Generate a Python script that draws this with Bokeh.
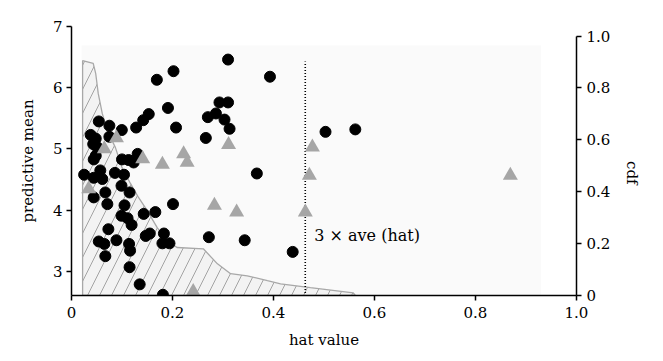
import math
from bokeh.plotting import figure
from bokeh.models import Range1d, LinearAxis, FixedTicker, Label, BoxAnnotation
from bokeh.embed import file_html
from bokeh.resources import INLINE

# ---- data ----
# black circles: hat value vs predictive mean
circ_hat = [0.310, 0.393, 0.202, 0.169, 0.293, 0.310, 0.153, 0.142, 0.191, 0.270,
            0.286, 0.303, 0.313, 0.207, 0.266, 0.367, 0.503, 0.562, 0.438, 0.201,
            0.272, 0.343, 0.181, 0.143, 0.166, 0.147, 0.155, 0.183, 0.180, 0.194,
            0.135, 0.128, 0.0996, 0.054, 0.075, 0.038, 0.048, 0.075, 0.043, 0.051,
            0.048, 0.044, 0.100, 0.123, 0.131, 0.113, 0.025, 0.044, 0.057, 0.061,
            0.086, 0.104, 0.099, 0.115, 0.067, 0.044, 0.071, 0.105, 0.099, 0.111,
            0.119, 0.073, 0.054, 0.065, 0.089, 0.114, 0.116, 0.067, 0.115]
circ_mean = [6.46, 6.18, 6.27, 6.13, 5.76, 5.76, 5.57, 5.47, 5.67, 5.52,
             5.58, 5.48, 5.33, 5.35, 5.18, 4.60, 5.28, 5.32, 3.32, 4.10,
             3.56, 3.51, 2.62, 3.94, 3.97, 3.58, 3.62, 3.62, 3.46, 3.46,
             2.79, 5.35, 5.31, 5.45, 5.38, 5.23, 5.17, 5.20, 5.08, 5.03,
             4.89, 4.83, 4.83, 4.78, 4.92, 4.82, 4.58, 4.53, 4.65, 4.51,
             4.61, 4.58, 4.40, 4.29, 4.29, 4.21, 4.10, 4.08, 3.91, 3.87,
             3.76, 3.69, 3.49, 3.45, 3.51, 3.45, 3.34, 3.25, 3.07]

# grey triangles
tri_hat = [0.311, 0.222, 0.229, 0.180, 0.141, 0.477, 0.471, 0.463, 0.869, 0.283,
           0.327, 0.241, 0.065, 0.089, 0.034]
tri_mean = [5.07, 4.92, 4.78, 4.75, 4.84, 5.03, 4.57, 3.97, 4.57, 4.08,
            3.97, 2.67, 5.00, 5.18, 4.35]

# hatched cdf region (hat value, cdf)
cdf_hat = [0.022, 0.022, 0.043, 0.048, 0.053, 0.061, 0.071, 0.087, 0.100, 0.117,
           0.133, 0.150, 0.170, 0.190, 0.209, 0.261, 0.289, 0.315, 0.348, 0.388,
           0.414, 0.473, 0.558, 0.562]
cdf_val = [0.0, 0.905, 0.895, 0.855, 0.778, 0.701, 0.636, 0.570, 0.493, 0.431,
           0.377, 0.327, 0.261, 0.211, 0.185, 0.180, 0.122, 0.084, 0.076, 0.057,
           0.045, 0.030, 0.010, 0.0]

hat_ave = 0.1543
threshold = 3 * hat_ave

x_ticks = [0, 0.2, 0.4, 0.6, 0.8, 1.0]
x_labels = ["0", "0.2", "0.4", "0.6", "0.8", "1.0"]
y_ticks = [3, 4, 5, 6, 7]
cdf_ticks = [0, 0.2, 0.4, 0.6, 0.8, 1.0]
cdf_labels = ["0", "0.2", "0.4", "0.6", "0.8", "1.0"]

FONT = "DejaVu Serif"

p = figure(width=655, height=353, x_range=Range1d(0, 1), y_range=Range1d(2.608, 7.0),
           output_backend="svg", toolbar_location=None,
           min_border_left=71, min_border_right=79, min_border_top=26, min_border_bottom=58)
p.outline_line_color = None
p.grid.visible = False
p.extra_y_ranges = {"cdf": Range1d(0, 1.037)}

p.add_layout(BoxAnnotation(left=0.02, right=0.93, bottom=2.62, top=6.69,
                           fill_color="#fafafa", fill_alpha=1, line_color=None,
                           level="underlay"))

p.patch(cdf_hat, cdf_val, y_range_name="cdf", fill_color="#f3f3f3", line_color="#a8a8a8",
        line_width=1.3, hatch_pattern="/", hatch_color="#9a9a9a", hatch_scale=24,
        hatch_weight=0.9)

p.segment(x0=[threshold], y0=[2.55], x1=[threshold], y1=[6.43], line_color="black",
          line_width=1.6, line_dash="1 2")

p.scatter(circ_hat, circ_mean, marker="circle", size=11, color="black")
p.scatter(tri_hat, tri_mean, marker="triangle", size=15, color="#a6a6a6", line_color=None)

p.add_layout(Label(x=threshold, y=3.585, x_offset=9, text="3 \u00d7 ave (hat)",
                   text_baseline="middle", text_font=FONT, text_font_size="16px",
                   text_color="black"))

def style(ax):
    ax.axis_line_color = "black"
    ax.axis_line_width = 1.5
    ax.major_tick_line_color = "black"
    ax.major_tick_line_width = 1.5
    ax.major_tick_in = 0
    ax.major_tick_out = 5
    ax.minor_tick_line_color = None
    ax.major_label_text_font = FONT
    ax.major_label_text_font_size = "15px"
    ax.major_label_text_color = "black"
    ax.axis_label_text_font = FONT
    ax.axis_label_text_font_size = "15px"
    ax.axis_label_text_font_style = "normal"
    ax.axis_label_text_color = "black"

xa = p.xaxis[0]
style(xa)
xa.ticker = FixedTicker(ticks=x_ticks)
xa.major_label_overrides = {t: l for t, l in zip(x_ticks, x_labels)}
xa.axis_label = "hat value"
xa.major_label_standoff = 6
xa.axis_label_standoff = 10

ya = p.yaxis[0]
style(ya)
ya.ticker = FixedTicker(ticks=y_ticks)
ya.axis_label = "predictive mean"
ya.major_label_standoff = 4
ya.axis_label_standoff = 13

ra = LinearAxis(y_range_name="cdf")
style(ra)
ra.ticker = FixedTicker(ticks=cdf_ticks)
ra.major_label_overrides = {t: l for t, l in zip(cdf_ticks, cdf_labels)}
ra.bounds = (0, 1.0)
ra.major_label_standoff = 5
ra.axis_label = "cdf"
ra.axis_label_standoff = 19
try:
    ra.axis_label_orientation = -math.pi / 2
except Exception:
    ra.axis_label = ""
    p.add_layout(Label(x=569, y=127, x_units="screen", y_units="screen",
                       angle=math.pi / 2, text="cdf", text_align="center",
                       text_baseline="middle", text_font=FONT,
                       text_font_size="15px", text_color="black"))
p.add_layout(ra, "right")

open("out.html", "w").write(file_html(p, INLINE))
